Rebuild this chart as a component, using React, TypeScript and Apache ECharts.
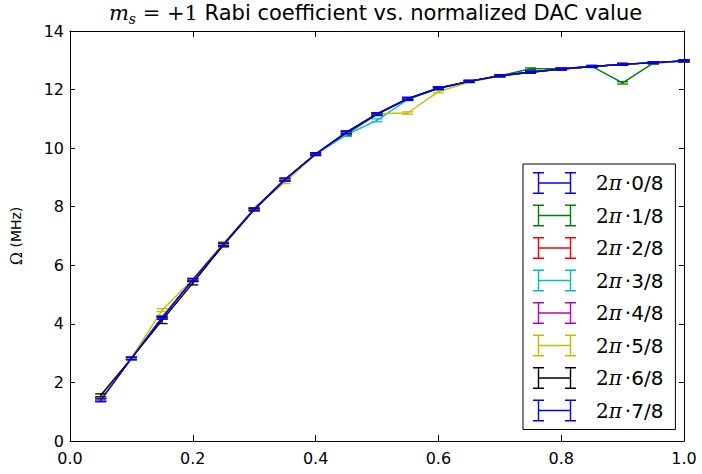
import React, { useEffect, useRef } from 'react';
import * as echarts from 'echarts';

const dacValues = [0.05, 0.1, 0.15, 0.2, 0.25, 0.3, 0.35, 0.4, 0.45, 0.5, 0.55, 0.6, 0.65, 0.7, 0.75, 0.8, 0.85, 0.9, 0.95, 1.0];

const phaseLabels = ['0/8', '1/8', '2/8', '3/8', '4/8', '5/8', '6/8', '7/8'];
const seriesColors = ['#0000ff', '#008000', '#ff0000', '#00bfbf', '#bf00bf', '#bfbf00', '#000000', '#0000ff'];

const omega0 = [1.40, 2.82, 4.21, 5.50, 6.72, 7.92, 8.93, 9.80, 10.54, 11.17, 11.69, 12.05, 12.28, 12.47, 12.60, 12.70, 12.79, 12.86, 12.92, 12.98];
const omega1 = [1.42, 2.83, 4.22, 5.50, 6.73, 7.92, 8.92, 9.79, 10.48, 11.15, 11.68, 12.04, 12.28, 12.47, 12.71, 12.72, 12.79, 12.23, 12.90, 12.97];
const omega2 = [1.43, 2.83, 4.20, 5.48, 6.68, 7.90, 8.92, 9.80, 10.53, 11.16, 11.69, 12.04, 12.28, 12.46, 12.59, 12.70, 12.79, 12.86, 12.92, 12.98];
const omega3 = [1.42, 2.83, 4.21, 5.50, 6.71, 7.91, 8.92, 9.79, 10.45, 10.95, 11.66, 12.03, 12.27, 12.46, 12.59, 12.70, 12.78, 12.86, 12.92, 12.97];
const omega4 = [1.41, 2.82, 4.21, 5.50, 6.72, 7.92, 8.93, 9.80, 10.54, 11.17, 11.69, 12.05, 12.28, 12.47, 12.60, 12.70, 12.79, 12.86, 12.92, 12.98];
const omega5 = [1.45, 2.84, 4.47, 5.52, 6.76, 7.92, 8.84, 9.78, 10.52, 11.18, 11.20, 11.93, 12.25, 12.46, 12.59, 12.70, 12.79, 12.86, 12.92, 12.97];
const omega6 = [1.56, 2.82, 4.12, 5.39, 6.70, 7.90, 8.92, 9.79, 10.53, 11.16, 11.68, 12.04, 12.28, 12.47, 12.59, 12.70, 12.79, 12.86, 12.92, 12.98];
const omega7 = [1.39, 2.82, 4.21, 5.51, 6.72, 7.92, 8.93, 9.80, 10.54, 11.17, 11.69, 12.06, 12.28, 12.47, 12.60, 12.70, 12.79, 12.86, 12.92, 12.98];

const err0 = [0.05, 0.04, 0.05, 0.04, 0.04, 0.04, 0.04, 0.04, 0.04, 0.04, 0.04, 0.04, 0.03, 0.03, 0.03, 0.03, 0.03, 0.03, 0.03, 0.03];
const err1 = [0.04, 0.04, 0.04, 0.04, 0.04, 0.04, 0.04, 0.04, 0.05, 0.04, 0.04, 0.04, 0.03, 0.03, 0.03, 0.03, 0.03, 0.04, 0.03, 0.03];
const err2 = [0.04, 0.04, 0.04, 0.04, 0.06, 0.04, 0.04, 0.04, 0.04, 0.04, 0.04, 0.04, 0.03, 0.03, 0.03, 0.03, 0.03, 0.03, 0.03, 0.03];
const err3 = [0.04, 0.04, 0.04, 0.04, 0.04, 0.04, 0.04, 0.04, 0.05, 0.05, 0.04, 0.04, 0.03, 0.03, 0.03, 0.03, 0.03, 0.03, 0.03, 0.03];
const err4 = [0.04, 0.04, 0.04, 0.04, 0.04, 0.04, 0.04, 0.04, 0.04, 0.04, 0.04, 0.04, 0.03, 0.03, 0.03, 0.03, 0.03, 0.03, 0.03, 0.03];
const err5 = [0.04, 0.04, 0.05, 0.04, 0.05, 0.04, 0.05, 0.04, 0.04, 0.04, 0.04, 0.04, 0.03, 0.03, 0.03, 0.03, 0.03, 0.03, 0.03, 0.03];
const err6 = [0.05, 0.04, 0.11, 0.06, 0.05, 0.04, 0.04, 0.04, 0.04, 0.04, 0.04, 0.04, 0.03, 0.03, 0.03, 0.03, 0.03, 0.03, 0.03, 0.03];
const err7 = [0.05, 0.04, 0.05, 0.04, 0.04, 0.04, 0.04, 0.04, 0.04, 0.04, 0.04, 0.04, 0.03, 0.03, 0.03, 0.03, 0.03, 0.03, 0.03, 0.03];

const omegaSeries = [omega0, omega1, omega2, omega3, omega4, omega5, omega6, omega7];
const errSeries = [err0, err1, err2, err3, err4, err5, err6, err7];

const titleText = '{mi|m}{sub|s}{mr| = +1} Rabi coefficient vs. normalized DAC value';
const yName = '{o|Ω} (MHz)';

const LEGEND_ICON =
  'path://M0,0L11,0L11,1.4L0,1.4Z' +
  'M4.8,0L6.2,0L6.2,22L4.8,22Z' +
  'M0,20.6L11,20.6L11,22L0,22Z' +
  'M32,0L43,0L43,1.4L32,1.4Z' +
  'M36.8,0L38.2,0L38.2,22L36.8,22Z' +
  'M32,20.6L43,20.6L43,22L32,22Z' +
  'M5.5,10.3L37.5,10.3L37.5,11.7L5.5,11.7Z';

export default function App() {
  const ref = useRef<HTMLDivElement>(null);

  useEffect(() => {
    if (!ref.current) return;
    const chart = echarts.init(ref.current, undefined, { renderer: 'svg' });
    const names = phaseLabels.map((p) => `2π·${p}`);

    const series: any[] = [];
    omegaSeries.forEach((vals, i) => {
      const color = seriesColors[i];
      series.push({
        type: 'line',
        name: names[i],
        data: dacValues.map((x, j) => [x, vals[j]]),
        showSymbol: false,
        symbol: 'none',
        color,
        lineStyle: { color, width: 1.4 },
        itemStyle: { color, borderWidth: 0 },
        z: 2 + i,
      });
      series.push({
        type: 'custom',
        name: names[i],
        data: dacValues.map((x, j) => [x, vals[j], errSeries[i][j]]),
        encode: { x: 0, y: 1 },
        color,
        itemStyle: { color },
        z: 2 + i,
        renderItem: (params: any, api: any) => {
          const x = api.value(0);
          const y = api.value(1);
          const e = api.value(2);
          const top = api.coord([x, y + e]);
          const bot = api.coord([x, y - e]);
          const hw = 5.5;
          const style = { stroke: color, lineWidth: 1.3, fill: null };
          return {
            type: 'group',
            children: [
              { type: 'line', shape: { x1: top[0], y1: top[1], x2: bot[0], y2: bot[1] }, style },
              { type: 'line', shape: { x1: top[0] - hw, y1: top[1], x2: top[0] + hw, y2: top[1] }, style },
              { type: 'line', shape: { x1: bot[0] - hw, y1: bot[1], x2: bot[0] + hw, y2: bot[1] }, style },
            ],
          };
        },
      });
    });

    const axisCommon = {
      splitLine: { show: false },
      axisLine: { show: true, onZero: false, lineStyle: { color: '#000', width: 1 } },
    };

    chart.setOption({
      animation: false,
      backgroundColor: '#fff',
      title: {
        text: titleText,
        left: 375.5,
        top: 0,
        padding: 0,
        textAlign: 'center',
        textStyle: {
          fontFamily: 'DejaVu Sans',
          fontSize: 21,
          fontWeight: 'normal',
          color: '#000',
          lineHeight: 26,
          rich: {
            mi: { fontFamily: 'DejaVu Serif', fontStyle: 'italic', fontSize: 21, lineHeight: 26, color: '#000' },
            sub: { fontFamily: 'DejaVu Serif', fontStyle: 'italic', fontSize: 14, lineHeight: 12, verticalAlign: 'bottom', color: '#000' },
            mr: { fontFamily: 'DejaVu Serif', fontSize: 21, lineHeight: 26, color: '#000' },
          },
        },
      },
      grid: { left: 67, right: 18, top: 31, bottom: 33 },
      xAxis: [
        {
          type: 'value', min: 0, max: 1, interval: 0.2, position: 'bottom',
          ...axisCommon,
          axisTick: { show: true, inside: true, length: 6, lineStyle: { color: '#000' } },
          axisLabel: {
            formatter: (v: number) => v.toFixed(1), fontSize: 16, color: '#000',
            fontFamily: 'DejaVu Sans', margin: 9,
          },
        },
        {
          type: 'value', min: 0, max: 1, interval: 0.2, position: 'top',
          ...axisCommon,
          axisTick: { show: true, inside: true, length: 6, lineStyle: { color: '#000' } },
          axisLabel: { show: false },
        },
      ],
      yAxis: [
        {
          type: 'value', min: 0, max: 14, interval: 2, position: 'left',
          ...axisCommon,
          name: yName,
          nameLocation: 'middle',
          nameRotate: 90,
          nameGap: 46,
          nameTextStyle: {
            fontFamily: 'DejaVu Sans', fontSize: 14, color: '#000',
            rich: { o: { fontFamily: 'DejaVu Serif', fontSize: 16, color: '#000' } },
          },
          axisTick: { show: true, inside: true, length: 5, lineStyle: { color: '#000' } },
          axisLabel: { fontSize: 16, color: '#000', fontFamily: 'DejaVu Sans', margin: 6 },
        },
        {
          type: 'value', min: 0, max: 14, interval: 2, position: 'right',
          ...axisCommon,
          axisTick: { show: true, inside: true, length: 5, lineStyle: { color: '#000' } },
          axisLabel: { show: false },
        },
      ],
      legend: {
        orient: 'vertical',
        left: 523,
        top: 164,
        padding: [8, 12, 8, 10],
        itemGap: 10.5,
        itemWidth: 43,
        itemHeight: 22,
        backgroundColor: '#fff',
        borderColor: '#000',
        borderWidth: 1,
        borderRadius: 0,
        data: names.map((n) => ({ name: n, icon: LEGEND_ICON })),
        itemStyle: { borderWidth: 0 },
        formatter: (name: string) => {
          const p = name.split('·')[1];
          return `{a|2}{p|π}{d|·}{b|${p}}`;
        },
        textStyle: {
          fontFamily: 'DejaVu Sans',
          fontSize: 20,
          color: '#000',
          rich: {
            a: { fontFamily: 'DejaVu Serif', fontSize: 20, color: '#000', padding: [0, 0, 0, 15] },
            p: { fontFamily: 'DejaVu Serif', fontStyle: 'italic', fontSize: 20, color: '#000' },
            d: { fontFamily: 'DejaVu Sans', fontSize: 20, color: '#000', padding: [0, 0, 0, 3] },
            b: { fontFamily: 'DejaVu Sans', fontSize: 20, color: '#000' },
          },
        },
      },
      series,
    });

    return () => chart.dispose();
  }, []);

  return (
    <div
      ref={ref}
      style={{ position: 'fixed', left: 0, top: 0, width: 702, height: 474, background: '#fff' }}
    />
  );
}
